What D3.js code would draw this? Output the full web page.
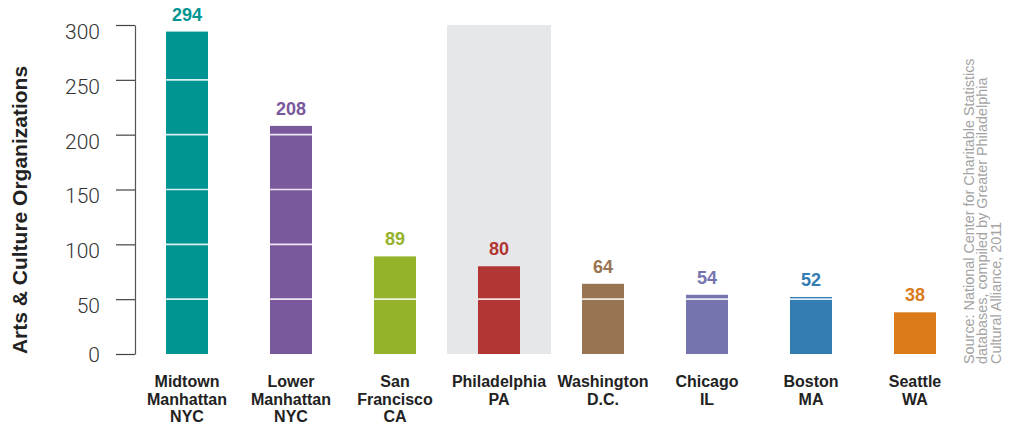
<!DOCTYPE html>
<html><head><meta charset="utf-8">
<script src="https://cdn.jsdelivr.net/npm/d3@7"></script>
<style>
html,body{margin:0;padding:0;background:#fff;}
svg{display:block;}
</style></head>
<body><svg id="c" width="1017" height="425"></svg>
<script>
const categories = ["Midtown Manhattan NYC","Lower Manhattan NYC","San Francisco CA","Philadelphia PA","Washington D.C.","Chicago IL","Boston MA","Seattle WA"];
const labelLines = [["Midtown","Manhattan","NYC"],["Lower","Manhattan","NYC"],["San","Francisco","CA"],["Philadelphia","PA"],["Washington","D.C."],["Chicago","IL"],["Boston","MA"],["Seattle","WA"]];
const values = [294,208,89,80,64,54,52,38];
const colors = ["#009593","#79589b","#95b22b","#b23634","#997453","#7674af","#337db3","#da7a1b"];
const yTicks = [0,50,100,150,200,250,300];
const highlighted = "Philadelphia PA";
const yTitle = "Arts & Culture Organizations";
const sourceLines = ["Source: National Center for Charitable Statistics","databases, compiled by Greater Philadelphia","Cultural Alliance, 2011"];

const svg = d3.select("#c");
const x = d3.scaleBand().domain(categories).range([135,967]).paddingInner(0.596).paddingOuter(0.298);
const y = d3.scaleLinear().domain([0,300]).range([354,25]);

// highlight band
svg.append("rect")
  .attr("x", x(highlighted) - x.step()*x.paddingInner()/2)
  .attr("width", x.step())
  .attr("y", y(300)).attr("height", y(0)-y(300))
  .attr("fill","#e6e7e9");

// bars
svg.selectAll("rect.bar").data(values).enter().append("rect")
  .attr("class","bar")
  .attr("x",(d,i)=>x(categories[i]))
  .attr("width",x.bandwidth())
  .attr("y",d=>y(d))
  .attr("height",d=>y(0)-y(d))
  .attr("fill",(d,i)=>colors[i]);

// white grid lines inside bars
values.forEach((v,i)=>{
  yTicks.filter(t=>t>0 && t<v).forEach(t=>{
    svg.append("line")
      .attr("x1",x(categories[i])).attr("x2",x(categories[i])+x.bandwidth())
      .attr("y1",y(t)).attr("y2",y(t))
      .attr("stroke","#fff").attr("stroke-opacity",0.85).attr("stroke-width",1.6);
  });
});

// value labels
svg.selectAll("text.val").data(values).enter().append("text")
  .attr("class","val")
  .attr("x",(d,i)=>x(categories[i])+x.bandwidth()/2)
  .attr("y",d=>y(d)-11)
  .attr("text-anchor","middle")
  .attr("font-family","Liberation Sans, Arial, sans-serif")
  .attr("font-weight","bold").attr("font-size",18)
  .attr("fill",(d,i)=>colors[i])
  .text(d=>d);

// y axis
const ax = svg.append("g").attr("transform","translate(135,0)")
  .call(d3.axisLeft(y).tickValues(yTicks).tickSize(19).tickPadding(16).tickSizeOuter(0));
ax.select(".domain").attr("stroke","#555").attr("stroke-width",1.2);
ax.selectAll(".tick line").attr("stroke","#444").attr("stroke-width",1.2);
ax.selectAll(".tick text")
  .attr("font-family","Roboto, Liberation Sans, sans-serif")
  .attr("font-weight",300)
  .attr("font-size",21)
  .attr("fill","#333")
  .attr("dy",d=> d===0 ? "0.36em" : "0.64em");

// y title
svg.append("text")
  .attr("transform","translate(27,210) rotate(-90)")
  .attr("text-anchor","middle")
  .attr("font-family","Liberation Sans, Arial, sans-serif")
  .attr("font-weight","bold").attr("font-size",21)
  .attr("fill","#222")
  .text(yTitle);

// x labels
labelLines.forEach((lines,i)=>{
  const t = svg.append("text")
    .attr("text-anchor","middle")
    .attr("font-family","Liberation Sans, Arial, sans-serif")
    .attr("font-weight","bold").attr("font-size",16)
    .attr("fill","#222");
  lines.forEach((ln,j)=>{
    t.append("tspan").attr("x",x(categories[i])+x.bandwidth()/2).attr("y",387+j*17.5).text(ln);
  });
});

// source
sourceLines.forEach((ln,j)=>{
  svg.append("text")
    .attr("transform",`translate(${974+j*13.3},364) rotate(-90)`)
    .attr("font-family","Liberation Sans, Arial, sans-serif")
    .attr("font-size",14.4)
    .attr("fill","#a3a3a3")
    .text(ln);
});
</script></body></html>
